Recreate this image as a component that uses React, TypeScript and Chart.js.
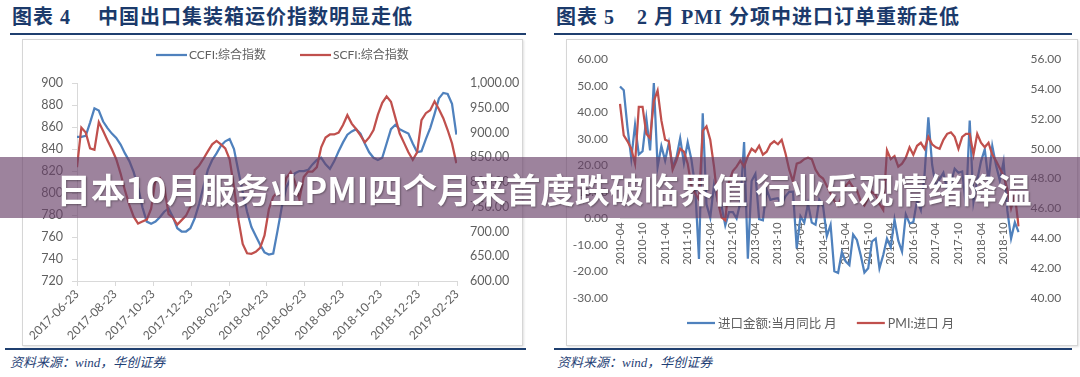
import React, { useEffect, useRef } from 'react';
import { Chart, registerables } from 'chart.js';

Chart.register(...registerables);

// ---------- Figure 4: CCFI / SCFI (weekly) ----------
const ccfiStartDate = '2017-06-23';
const ccfiTickLabels = [
  '2017-06-23', '2017-08-23', '2017-10-23', '2017-12-23', '2018-02-23', '2018-04-23',
  '2018-06-23', '2018-08-23', '2018-10-23', '2018-12-23', '2019-02-23',
];
const ccfiValues = [
  851, 851, 852, 864, 877, 875, 865, 859, 854, 850,
  844, 836, 829, 819, 805, 787, 774, 772, 774, 778,
  783, 786, 778, 768, 765, 765, 768, 777, 790, 806,
  821, 830, 836, 843, 847, 849, 840, 820, 801, 783,
  769, 761, 753, 746, 744, 745, 766, 788, 805, 813,
  818, 820, 820, 821, 826, 830, 832, 826, 822, 829,
  838, 846, 853, 856, 858, 854, 845, 837, 832, 830,
  832, 845, 858, 862, 858, 856, 854, 845, 837, 838,
  849, 859, 872, 886, 891, 890, 881, 853,
];
const scfiValues = [
  830, 910, 900, 868, 865, 921, 903, 884, 866, 846,
  817, 783, 754, 730, 716, 720, 724, 746, 804, 808,
  790, 735, 728, 714, 723, 732, 750, 824, 833, 847,
  862, 876, 883, 876, 868, 846, 790, 725, 675, 656,
  655, 659, 667, 692, 745, 770, 780, 771, 808, 820,
  800, 765, 810, 821, 821, 830, 870, 890, 896, 896,
  900, 915, 935, 918, 907, 894, 880, 890, 905, 936,
  960, 973, 962, 930, 898, 879, 860, 845, 860, 925,
  939, 945, 963, 947, 929, 905, 878, 838,
];

// ---------- Figure 5: import YoY / PMI import (monthly, 2010-04 .. 2019-02) ----------
const importStartYear = 2010;
const importStartMonth = 4;
const importYoY = [
  49.7, 48.3, 34.1, 22.7, 35.2, 24.1, 25.3, 37.7, 25.6,
  51.0, 19.4, 27.3, 21.8, 28.4, 19.3, 22.9, 30.2, 20.9, 28.7, 22.1, 11.8,
  -15.3, 39.6, 5.3, 0.3, 12.7, 6.3, 4.7, -2.6, 2.4, 2.4, 0.0, 6.0,
  28.8, -15.2, 14.1, 16.8, -0.3, -0.7, 10.9, 7.0, 7.4, 7.6, 5.3, 8.3,
  10.0, 10.1, -11.3, 0.8, -1.6, 5.5, -1.6, -2.4, 7.0, 4.6, -6.7, -2.4,
  -19.9, -20.5, -12.7, -16.2, -17.6, -6.1, -8.1, -13.8, -20.4, -18.8, -8.7, -7.6,
  -18.8, -13.8, -7.6, -10.9, -0.4, -8.4, -12.5, 1.5, -1.9, -1.4, 6.7, 3.1,
  16.7, 38.1, 20.3, 11.9, 14.8, 17.2, 11.0, 13.3, 18.7, 17.2, 17.7, 4.5,
  36.9, 6.3, 14.4, 21.5, 26.0, 14.1, 27.3, 20.0, 14.3, 21.4, 3.0, -7.6,
  -1.5, -5.2,
];
const pmiImport = [
  53.0, 50.9, 50.5, 50.0, 49.0, 52.8, 52.8, 51.0, 50.7,
  53.2, 53.9, 51.9, 50.6, 50.5, 48.6, 49.2, 50.0, 49.8, 49.0, 47.5, 47.0,
  46.6, 51.2, 51.5, 50.6, 48.8, 46.5, 45.4, 45.2, 47.8, 48.5, 48.8, 49.2,
  48.8, 49.5, 50.0, 49.8, 50.2, 49.6, 49.8, 50.3, 50.5, 50.3, 50.6, 49.7,
  48.6, 47.8, 49.0, 49.1, 49.3, 49.4, 49.3, 48.6, 48.2, 48.0, 47.5, 47.0,
  46.5, 46.2, 46.8, 47.5, 47.8, 47.4, 47.2, 46.5, 46.2, 46.7, 47.1, 46.9,
  46.3, 45.9, 49.9, 49.3, 49.5, 48.8, 49.0, 49.4, 50.1, 49.6, 50.2, 50.4,
  50.0, 50.8, 50.3, 50.1, 50.0, 50.6, 51.0, 51.1, 50.8, 50.0, 50.8, 51.0,
  51.0, 49.6, 51.0, 50.4, 50.1, 50.4, 49.6, 49.2, 48.7, 48.2, 47.3, 46.0,
  46.9, 44.8,
];

const BLUE = '#4f81bd';
const RED = '#c0504d';
const AXIS_TEXT = '#606060';
const AXIS_LINE = '#d9d9d9';
const FONT = 'Lato, "Noto Sans CJK SC", sans-serif';
const NAVY = '#1b3a6b';

function dayOffset(label: string): number {
  return Math.round(
    (Date.parse(label + 'T00:00:00Z') - Date.parse(ccfiStartDate + 'T00:00:00Z')) / 86400000
  );
}
const weeklyDays = ccfiValues.map((_, i) => i * 7);

const importMonths: string[] = importYoY.map((_, i) => {
  const total = importStartMonth - 1 + i;
  const y = importStartYear + Math.floor(total / 12);
  const m = (total % 12) + 1;
  return `${y}-${String(m).padStart(2, '0')}`;
});

function lineLegend(id: string, cfg: { x: number; y: number; lineLen: number; textGap: number; itemGap: number; size: number }) {
  return {
    id,
    afterDraw(chart: any) {
      const ctx = chart.ctx;
      ctx.save();
      ctx.font = `${cfg.size}px ${FONT}`;
      ctx.textBaseline = 'middle';
      ctx.textAlign = 'left';
      let x = cfg.x;
      chart.data.datasets.forEach((ds: any) => {
        ctx.strokeStyle = ds.borderColor;
        ctx.lineWidth = ds.borderWidth;
        ctx.beginPath();
        ctx.moveTo(x, cfg.y);
        ctx.lineTo(x + cfg.lineLen, cfg.y);
        ctx.stroke();
        x += cfg.lineLen + cfg.textGap;
        ctx.fillStyle = AXIS_TEXT;
        ctx.fillText(ds.label, x, cfg.y + 0.5);
        x += ctx.measureText(ds.label).width + cfg.itemGap;
      });
      ctx.restore();
    },
  };
}

function LeftChart() {
  const ref = useRef<HTMLCanvasElement>(null);
  useEffect(() => {
    const chart = new Chart(ref.current as HTMLCanvasElement, {
      type: 'line',
      data: {
        datasets: [
          {
            label: 'CCFI:综合指数',
            data: ccfiValues.map((v, i) => ({ x: weeklyDays[i], y: v })),
            yAxisID: 'y',
            borderColor: BLUE,
            backgroundColor: BLUE,
            borderWidth: 2.25,
            pointRadius: 0,
            tension: 0,
            order: 1,
          },
          {
            label: 'SCFI:综合指数',
            data: scfiValues.map((v, i) => ({ x: weeklyDays[i], y: v })),
            yAxisID: 'y1',
            borderColor: RED,
            backgroundColor: RED,
            borderWidth: 2.25,
            pointRadius: 0,
            tension: 0,
            order: 0,
          },
        ],
      },
      options: {
        animation: false,
        responsive: false,
        devicePixelRatio: 1,
        layout: { padding: { top: 43, bottom: 0, left: 0, right: 0 } },
        plugins: { legend: { display: false }, tooltip: { enabled: false } },
        scales: {
          x: {
            type: 'linear',
            min: 0,
            max: dayOffset(ccfiTickLabels[ccfiTickLabels.length - 1]),
            afterBuildTicks: (s: any) => {
              s.ticks = ccfiTickLabels.map((l) => ({ value: dayOffset(l) }));
            },
            afterFit: (s: any) => {
              s.height = 64;
            },
            grid: { display: true, drawOnChartArea: false, drawTicks: true, tickLength: 5, color: AXIS_LINE },
            border: { display: true, color: AXIS_LINE },
            ticks: {
              autoSkip: false,
              minRotation: 45,
              maxRotation: 45,
              padding: 1,
              color: AXIS_TEXT,
              font: { family: FONT, size: 12 },
              callback: (_v: any, i: number) => ccfiTickLabels[i],
            },
          },
          y: {
            position: 'left',
            min: 720,
            max: 900,
            afterFit: (s: any) => {
              s.width = 55;
            },
            grid: { display: true, drawOnChartArea: false, drawTicks: true, tickLength: 5, color: AXIS_LINE },
            border: { display: true, color: AXIS_LINE },
            ticks: { stepSize: 20, padding: 9, color: AXIS_TEXT, font: { family: FONT, size: 12.5 } },
          },
          y1: {
            position: 'right',
            min: 600,
            max: 1000,
            afterFit: (s: any) => {
              s.width = 65;
            },
            grid: { display: false, drawTicks: false },
            border: { display: false },
            ticks: {
              stepSize: 50,
              padding: 13,
              color: AXIS_TEXT,
              font: { family: FONT, size: 12.5 },
              callback: (v: any) =>
                Number(v).toLocaleString('en-US', { minimumFractionDigits: 2, maximumFractionDigits: 2 }),
            },
          },
        },
      },
      plugins: [lineLegend('leftLegend', { x: 134, y: 15, lineLen: 31, textGap: 2, itemGap: 34, size: 12 })],
    } as any);
    return () => chart.destroy();
  }, []);
  return <canvas ref={ref} width={500} height={305} style={{ position: 'absolute', left: 22, top: 40 }} />;
}

function RightChart() {
  const ref = useRef<HTMLCanvasElement>(null);
  useEffect(() => {
    const chart = new Chart(ref.current as HTMLCanvasElement, {
      type: 'line',
      data: {
        labels: importMonths,
        datasets: [
          {
            label: '进口金额:当月同比 月',
            data: importYoY,
            yAxisID: 'y',
            borderColor: BLUE,
            backgroundColor: BLUE,
            borderWidth: 2.25,
            pointRadius: 0,
            tension: 0,
            order: 1,
          },
          {
            label: 'PMI:进口 月',
            data: pmiImport,
            yAxisID: 'y1',
            borderColor: RED,
            backgroundColor: RED,
            borderWidth: 2.25,
            pointRadius: 0,
            tension: 0,
            order: 0,
          },
        ],
      },
      options: {
        animation: false,
        responsive: false,
        devicePixelRatio: 1,
        layout: { padding: { top: 15.5, bottom: 47, left: 0, right: 0 } },
        plugins: { legend: { display: false }, tooltip: { enabled: false } },
        scales: {
          x: {
            type: 'category',
            position: { y: 0 },
            grid: { display: false, drawTicks: false },
            border: { display: true, color: AXIS_LINE },
            ticks: {
              autoSkip: false,
              minRotation: 90,
              maxRotation: 90,
              padding: 4,
              color: AXIS_TEXT,
              font: { family: FONT, size: 11 },
              callback: (_v: any, i: number) => (i % 6 === 0 ? importMonths[i] : ''),
            },
          },
          y: {
            position: 'left',
            min: -30,
            max: 60,
            afterFit: (s: any) => {
              s.width = 54;
            },
            grid: { display: false, drawTicks: false },
            border: { display: false },
            ticks: {
              stepSize: 10,
              padding: 12,
              color: AXIS_TEXT,
              font: { family: FONT, size: 12 },
              callback: (v: any) => Number(v).toFixed(2),
            },
          },
          y1: {
            position: 'right',
            min: 40,
            max: 56,
            afterFit: (s: any) => {
              s.width = 56.4;
            },
            grid: { display: false, drawTicks: false },
            border: { display: false },
            ticks: {
              stepSize: 2,
              padding: 12,
              color: AXIS_TEXT,
              font: { family: FONT, size: 12 },
              callback: (v: any) => Number(v).toFixed(2),
            },
          },
        },
      },
      plugins: [lineLegend('rightLegend', { x: 121, y: 283, lineLen: 28, textGap: 3, itemGap: 20, size: 12.5 })],
    } as any);
    return () => chart.destroy();
  }, []);
  return <canvas ref={ref} width={509} height={305} style={{ position: 'absolute', left: 566, top: 40 }} />;
}

const titleStyle: React.CSSProperties = {
  position: 'absolute',
  top: 5,
  fontFamily: '"Liberation Serif", "Noto Sans CJK SC", serif',
  fontWeight: 700,
  fontSize: 20,
  lineHeight: '24px',
  color: NAVY,
  whiteSpace: 'nowrap',
  letterSpacing: 1,
};

const footStyle: React.CSSProperties = {
  position: 'absolute',
  top: 354,
  fontFamily: '"Liberation Serif", "Noto Sans CJK SC", serif',
  fontStyle: 'italic',
  fontSize: 13,
  lineHeight: '18px',
  color: '#1f3f75',
  whiteSpace: 'nowrap',
};

function Rule({ left, top, width }: { left: number; top: number; width: number }) {
  return <div style={{ position: 'absolute', left, top, width, height: 2, background: '#1f3f6f' }} />;
}

function Frame({ left, top, width, height }: { left: number; top: number; width: number; height: number }) {
  return (
    <div
      style={{
        position: 'absolute',
        left,
        top,
        width,
        height,
        boxSizing: 'border-box',
        border: '1px solid #d6d6d6',
        boxShadow: '1px 1px 2px rgba(0,0,0,0.12)',
        background: '#fff',
      }}
    />
  );
}

export default function App() {
  return (
    <div
      style={{
        position: 'absolute',
        left: 0,
        top: 0,
        width: 1080,
        height: 377,
        overflow: 'hidden',
        background: '#fff',
      }}
    >
      <div style={{ ...titleStyle, left: 12 }}>图表 4</div>
      <div style={{ ...titleStyle, left: 98 }}>中国出口集装箱运价指数明显走低</div>
      <div style={{ ...titleStyle, left: 556 }}>图表 5</div>
      <div style={{ ...titleStyle, left: 637 }}>2 月 PMI 分项中进口订单重新走低</div>
      <Rule left={10} top={33} width={516} />
      <Rule left={554} top={33} width={518} />

      <Frame left={22} top={39} width={501} height={307} />
      <Frame left={566} top={39} width={512} height={307} />
      <LeftChart />
      <RightChart />

      <Rule left={5} top={348} width={521} />
      <Rule left={554} top={348} width={518} />
      <div style={{ ...footStyle, left: 10 }}>资料来源：wind，华创证券</div>
      <div style={{ ...footStyle, left: 557 }}>资料来源：wind，华创证券</div>

      <div
        style={{
          position: 'absolute',
          left: 0,
          top: 157,
          width: 1080,
          height: 61,
          background: 'rgba(105,65,105,0.65)',
          display: 'flex',
          alignItems: 'center',
          justifyContent: 'center',
        }}
      >
        <span
          style={{
            fontFamily: '"Noto Sans CJK SC", "Noto Sans", sans-serif',
            fontWeight: 700,
            fontSize: 34.5,
            lineHeight: '40px',
            color: '#ffffff',
            whiteSpace: 'nowrap',
            textShadow: '1px 1px 2px rgba(0,0,0,0.35)',
            marginLeft: 8,
          }}
        >
          日本10月服务业PMI四个月来首度跌破临界值 行业乐观情绪降温
        </span>
      </div>
    </div>
  );
}
